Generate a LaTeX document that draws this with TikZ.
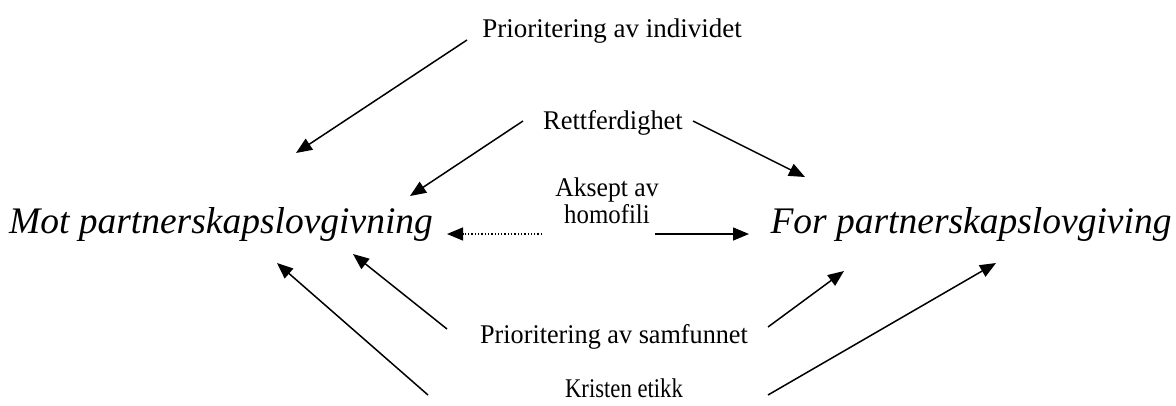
\documentclass[tikz,border=0pt]{standalone}
\usepackage{fontspec}
\setmainfont{Liberation Serif}
\usetikzlibrary{arrows.meta}
\newcommand{\narrow}[2]{\scalebox{#1}[1]{#2}}
\begin{document}
\begin{tikzpicture}[x=1pt,y=-1pt,
  label/.style={inner sep=0pt,anchor=base,font=\fontsize{27}{27}\selectfont},
  pole/.style={inner sep=0pt,anchor=base,font=\fontsize{37.5}{42}\selectfont\itshape},
  link/.style={line width=1.5pt,-{Triangle[length=16pt,width=13pt]}},
  weak/.style={line width=1.3pt,dotted,-{Triangle[length=16pt,width=13pt]}}]
\useasboundingbox (0,0) rectangle (1176,405);

% the two positions
\node[pole] (mot) at (221,233) {Mot partnerskapslovgivning};
\node[pole] (for) at (971,233) {For partnerskapslovgiving};

% arguments
\node[label] (indiv) at (612,37) {Prioritering av individet};
\node[label] (rett)  at (613,129) {\narrow{0.98}{Rettferdighet}};
\node[label,align=center] (aksept) at (607,223) {\narrow{0.95}{Aksept av}\\\narrow{0.92}{homofili}};
\node[label] (samf)  at (614,343) {\narrow{0.97}{Prioritering av samfunnet}};
\node[label] (krist) at (624,397) {\narrow{0.84}{Kristen etikk}};

% connector end points
\coordinate (indivL) at (467,40);   \coordinate (motA) at (296,153);
\coordinate (rettL)  at (523,121);  \coordinate (motB) at (410,196);
\coordinate (rettR)  at (693,121);  \coordinate (forA) at (805,177);
\coordinate (akseptL) at (542,234); \coordinate (motC) at (447,234);
\coordinate (akseptR) at (655,234); \coordinate (forB) at (749,234);
\coordinate (samfL)  at (447,329);  \coordinate (motD) at (353,254);
\coordinate (samfR)  at (768,327);  \coordinate (forC) at (844,271);
\coordinate (kristL) at (428,395);  \coordinate (motE) at (277,263);
\coordinate (kristR) at (768,395);  \coordinate (forD) at (996,263);

\draw[link] (indivL) -- (motA);
\draw[link] (rettL) -- (motB);
\draw[link] (rettR) -- (forA);
\draw[weak] (akseptL) -- (motC);
\draw[link] (akseptR) -- (forB);
\draw[link] (samfL) -- (motD);
\draw[link] (samfR) -- (forC);
\draw[link] (kristL) -- (motE);
\draw[link] (kristR) -- (forD);
\end{tikzpicture}
\end{document}
